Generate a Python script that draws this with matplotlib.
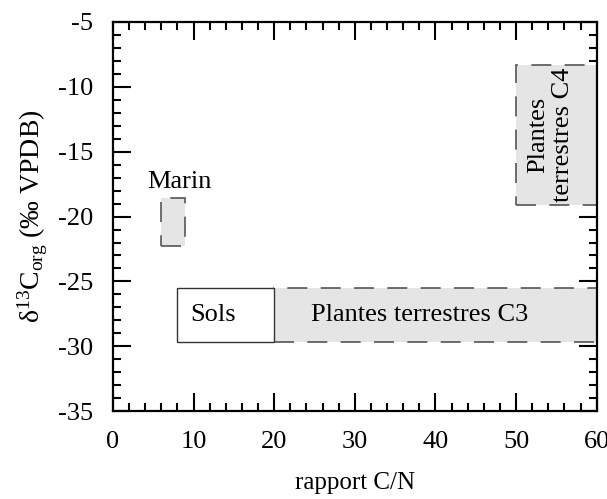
import matplotlib
matplotlib.use("Agg")
import matplotlib.pyplot as plt
from matplotlib.patches import Rectangle
from matplotlib.ticker import MultipleLocator

plt.rcParams['font.family'] = ['Liberation Serif', 'DejaVu Serif']
plt.rcParams['mathtext.fontset'] = 'custom'
plt.rcParams['mathtext.rm'] = 'Liberation Serif'
plt.rcParams['mathtext.it'] = 'Liberation Serif:italic'
plt.rcParams['axes.unicode_minus'] = False

# Data: boxes (x0, x1, y0, y1)
names = ["Marin", "Sols", "Plantes terrestres C3", "Plantes\nterrestres C4"]
cn_min = [6, 8, 20, 50]
cn_max = [9, 20, 60, 60]
d13c_min = [-22.3, -29.7, -29.7, -19.1]
d13c_max = [-18.6, -25.5, -25.5, -8.3]
filled = [True, False, True, True]
label_x = [8.3, 12.4, 38.0, 54.3]
label_y = [-17.3, -27.6, -27.6, -13.7]
label_rot = [0, 0, 0, 90]

xticks = [0, 10, 20, 30, 40, 50, 60]
yticks = [-35, -30, -25, -20, -15, -10, -5]

fig = plt.figure(figsize=(6.07, 4.99), dpi=100)
ax = fig.add_axes([0.186, 0.176, 0.797, 0.780])

for i in range(len(names)):
    x0, x1 = cn_min[i], cn_max[i]
    y0, y1 = d13c_min[i], d13c_max[i]
    if filled[i]:
        r = Rectangle((x0, y0), x1 - x0, y1 - y0, facecolor='#e5e5e5',
                      edgecolor='#555555', linewidth=1.2,
                      linestyle=(0, (12, 8)), zorder=2)
    else:
        r = Rectangle((x0, y0), x1 - x0, y1 - y0, facecolor='white',
                      edgecolor='#333333', linewidth=1.0, zorder=3)
    ax.add_patch(r)
    ax.text(label_x[i], label_y[i], names[i], ha='center', va='center',
            rotation=label_rot[i], fontsize=19, zorder=4, linespacing=1.15)

ax.set_xlim(0, 60)
ax.set_ylim(-35, -5)
ax.set_xticks(xticks)
ax.set_yticks(yticks)
ax.xaxis.set_minor_locator(MultipleLocator(2))
ax.yaxis.set_minor_locator(MultipleLocator(1))
ax.tick_params(which='both', direction='in', top=True, right=True,
               labelsize=19, width=1.5, pad=14)
ax.tick_params(which='major', length=13)
ax.tick_params(which='minor', length=6)
for s in ax.spines.values():
    s.set_linewidth(1.6)

ax.set_xlabel("rapport C/N", fontsize=18, labelpad=14)
ax.set_ylabel("δ$^{13}$C$_{\\mathrm{org}}$ (‰ VPDB)", fontsize=20, labelpad=6)

fig.savefig("out.png", dpi=100)
